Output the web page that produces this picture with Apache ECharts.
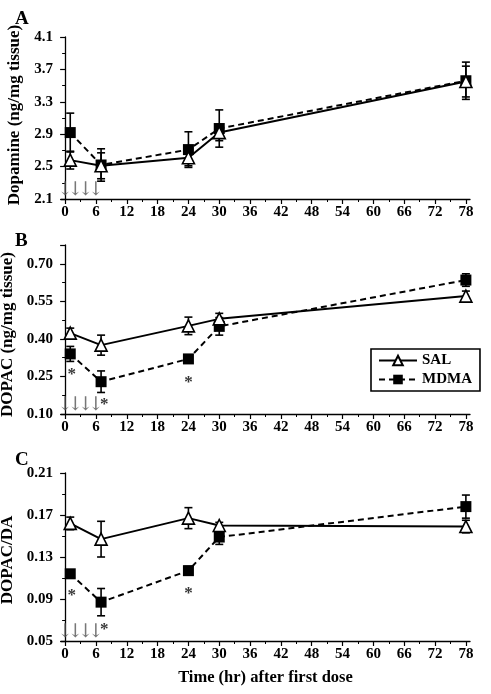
<!DOCTYPE html>
<html><head><meta charset="utf-8">
<script src="https://cdn.jsdelivr.net/npm/echarts@6/dist/echarts.min.js"></script>
<style>html,body{margin:0;padding:0;background:#fff}#c{width:491px;height:694px}</style>
</head><body><div id="c"></div>
<script>
// ---- data ----
const hours = [1, 7, 24, 30, 78];
const doseTimes = [0, 2, 4, 6];
const xTickLabels = [0, 6, 12, 18, 24, 30, 36, 42, 48, 54, 60, 66, 72, 78];
const xMinorTicks = [3, 9, 15, 21, 27, 33, 39, 45, 51, 57, 63, 69, 75];
const seriesNames = ['SAL', 'MDMA'];
const panelLetters = ['A', 'B', 'C'];
const yNames = ['Dopamine (ng/mg tissue)', 'DOPAC (ng/mg tissue)', 'DOPAC/DA'];
const xName = 'Time (hr) after first dose';

// Panel A: dopamine
const daSal = [2.58, 2.51, 2.61, 2.92, 3.55];
const daSalErr = [0.11, 0.16, 0.10, 0.10, 0.19];
const daMdma = [2.92, 2.52, 2.71, 2.97, 3.56];
const daMdmaErr = [0.24, 0.20, 0.22, 0.23, 0.23];
// Panel B: DOPAC
const dopacSal = [0.423, 0.375, 0.452, 0.480, 0.571];
const dopacSalErr = [0.020, 0.040, 0.035, 0.022, 0.020];
const dopacMdma = [0.340, 0.229, 0.320, 0.450, 0.635];
const dopacMdmaErr = [0.030, 0.043, 0.012, 0.035, 0.025];
// Panel C: DOPAC/DA
const ratioSal = [0.162, 0.147, 0.167, 0.160, 0.159];
const ratioSalErr = [0.006, 0.017, 0.010, 0.003, 0.006];
const ratioMdma = [0.114, 0.087, 0.117, 0.149, 0.178];
const ratioMdmaErr = [0.002, 0.013, 0.004, 0.007, 0.011];

// significance asterisks [hour, level]
const sigB = [[1.3, 0.256], [7.6, 0.136], [24, 0.225]];
const sigC = [[1.3, 0.093], [7.6, 0.0605], [24, 0.0955]];

// y axis scales
const yMins = [2.1, 0.10, 0.05];
const yMaxs = [4.1, 0.775, 0.21];
const yIntervals = [0.4, 0.15, 0.04];
const yDecimals = [1, 2, 2];

// ---- layout ----
const FONT = '"Liberation Serif", "Times New Roman", serif';
const grids = [
  {left: 61, right: 21, top: 37, height: 162, outerBoundsMode: 'none', containLabel: false},
  {left: 61, right: 21, top: 245, height: 169, outerBoundsMode: 'none', containLabel: false},
  {left: 61, right: 21, top: 473, height: 168, outerBoundsMode: 'none', containLabel: false}
];
const letterTops = [5, 227, 446];
const yNamePads = [[0, 0, 0, 6], [0, 10, 0, 0], [0, 6, 0, 0]];
const yNameGaps = [33, 36, 36];

const panels = [
  {sal: daSal, salErr: daSalErr, mdma: daMdma, mdmaErr: daMdmaErr, sig: []},
  {sal: dopacSal, salErr: dopacSalErr, mdma: dopacMdma, mdmaErr: dopacMdmaErr, sig: sigB},
  {sal: ratioSal, salErr: ratioSalErr, mdma: ratioMdma, mdmaErr: ratioMdmaErr, sig: sigC}
];

const xAxes = [], yAxes = [], series = [], titles = [];
panels.forEach((p, k) => {
  const isLast = k === 2;
  xAxes.push({
    type: 'value', gridIndex: k, min: -0.8, max: 78.8, position: 'bottom',
    axisLine: {lineStyle: {color: '#000', width: 1.3}},
    axisTick: {customValues: xTickLabels, length: 5, lineStyle: {color: '#000', width: 1.2}},
    axisLabel: {customValues: xTickLabels, color: '#000', fontFamily: FONT, fontWeight: 'bold', fontSize: 15, margin: 6},
    splitLine: {show: false},
    name: isLast ? xName : '', nameLocation: 'middle', nameGap: 28,
    nameTextStyle: {color: '#000', fontFamily: FONT, fontWeight: 'bold', fontSize: 16.5}
  });
  xAxes.push({
    type: 'value', gridIndex: k, min: -0.8, max: 78.8, position: 'bottom', offset: 0,
    axisLine: {show: false},
    axisTick: {customValues: xMinorTicks, length: 3, lineStyle: {color: '#000', width: 1}},
    axisLabel: {show: false}, splitLine: {show: false}
  });
  yAxes.push({
    type: 'value', gridIndex: k, min: yMins[k], max: yMaxs[k], interval: yIntervals[k],
    axisLine: {show: true, lineStyle: {color: '#000', width: 1.3}},
    axisTick: {show: true, length: 5, lineStyle: {color: '#000', width: 1.2}},
    minorTick: {show: true, splitNumber: 2, length: 3, lineStyle: {color: '#000', width: 1}},
    axisLabel: {color: '#000', fontFamily: FONT, fontWeight: 'bold', fontSize: 15, margin: 8,
      showMaxLabel: k !== 1,
      formatter: v => v.toFixed(yDecimals[k])},
    splitLine: {show: false},
    name: yNames[k], nameLocation: 'middle', nameGap: yNameGaps[k],
    nameTextStyle: {color: '#000', fontFamily: FONT, fontWeight: 'bold', fontSize: 17, padding: yNamePads[k]}
  });
  titles.push({text: panelLetters[k], left: 10, top: letterTops[k],
    textStyle: {color: '#000', fontFamily: FONT, fontWeight: 'bold', fontSize: 19}});

  const xi = k * 2, yi = k;
  const errSeries = (vals, errs) => ({
    type: 'custom', xAxisIndex: xi, yAxisIndex: yi, silent: true, z: 2,
    encode: {x: 0, y: [1, 2]},
    data: hours.map((h, i) => [h, vals[i] - errs[i], vals[i] + errs[i]]),
    renderItem: (params, api) => {
      const lo = api.coord([api.value(0), api.value(1)]);
      const hi = api.coord([api.value(0), api.value(2)]);
      const hw = 4;
      const st = {stroke: '#000', lineWidth: 1.6};
      return {type: 'group', children: [
        {type: 'line', shape: {x1: lo[0], y1: lo[1], x2: hi[0], y2: hi[1]}, style: st},
        {type: 'line', shape: {x1: lo[0] - hw, y1: lo[1], x2: lo[0] + hw, y2: lo[1]}, style: st},
        {type: 'line', shape: {x1: hi[0] - hw, y1: hi[1], x2: hi[0] + hw, y2: hi[1]}, style: st}
      ]};
    }
  });
  series.push(errSeries(p.sal, p.salErr));
  series.push(errSeries(p.mdma, p.mdmaErr));
  series.push({
    name: seriesNames[0], type: 'line', xAxisIndex: xi, yAxisIndex: yi, z: 4,
    data: hours.map((h, i) => [h, p.sal[i]]),
    symbol: 'triangle', symbolSize: 12,
    itemStyle: {color: '#fff', borderColor: '#000', borderWidth: 1.6},
    lineStyle: {color: '#000', width: 2, type: 'solid'}, animation: false
  });
  series.push({
    name: seriesNames[1], type: 'line', xAxisIndex: xi, yAxisIndex: yi, z: 3,
    data: hours.map((h, i) => [h, p.mdma[i]]),
    symbol: 'rect', symbolSize: 11,
    itemStyle: {color: '#000', borderColor: '#000', borderWidth: 0},
    lineStyle: {color: '#000', width: 2, type: [6, 4]}, animation: false
  });
  // dosing arrows
  series.push({
    type: 'scatter', xAxisIndex: xi, yAxisIndex: yi, silent: true, symbolSize: 0, z: 5,
    data: doseTimes.map(t => [t, yMins[k]]),
    label: {show: true, formatter: '\u2193', position: 'top', distance: -1,
      color: '#555', fontFamily: '"DejaVu Serif", serif', fontSize: 19}
  });
  if (p.sig.length) {
    series.push({
      type: 'scatter', xAxisIndex: xi, yAxisIndex: yi, silent: true, symbolSize: 0, z: 5,
      data: p.sig,
      label: {show: true, formatter: '*', position: 'inside',
        color: '#000', fontFamily: FONT, fontWeight: 'bold', fontSize: 17}
    });
  }
});

const chart = echarts.init(document.getElementById('c'), null, {renderer: 'canvas'});
chart.setOption({
  animation: false,
  backgroundColor: '#fff',
  title: titles,
  grid: grids,
  xAxis: xAxes,
  yAxis: yAxes,
  legend: {
    data: seriesNames, orient: 'vertical', left: 371, top: 349,
    padding: [4, 8, 4, 7], itemGap: 4, itemWidth: 38, itemHeight: 12,
    borderColor: '#000', borderWidth: 1.6, backgroundColor: '#fff',
    textStyle: {color: '#000', fontFamily: FONT, fontWeight: 'bold', fontSize: 15}
  },
  series: series
});
</script>
</body></html>
